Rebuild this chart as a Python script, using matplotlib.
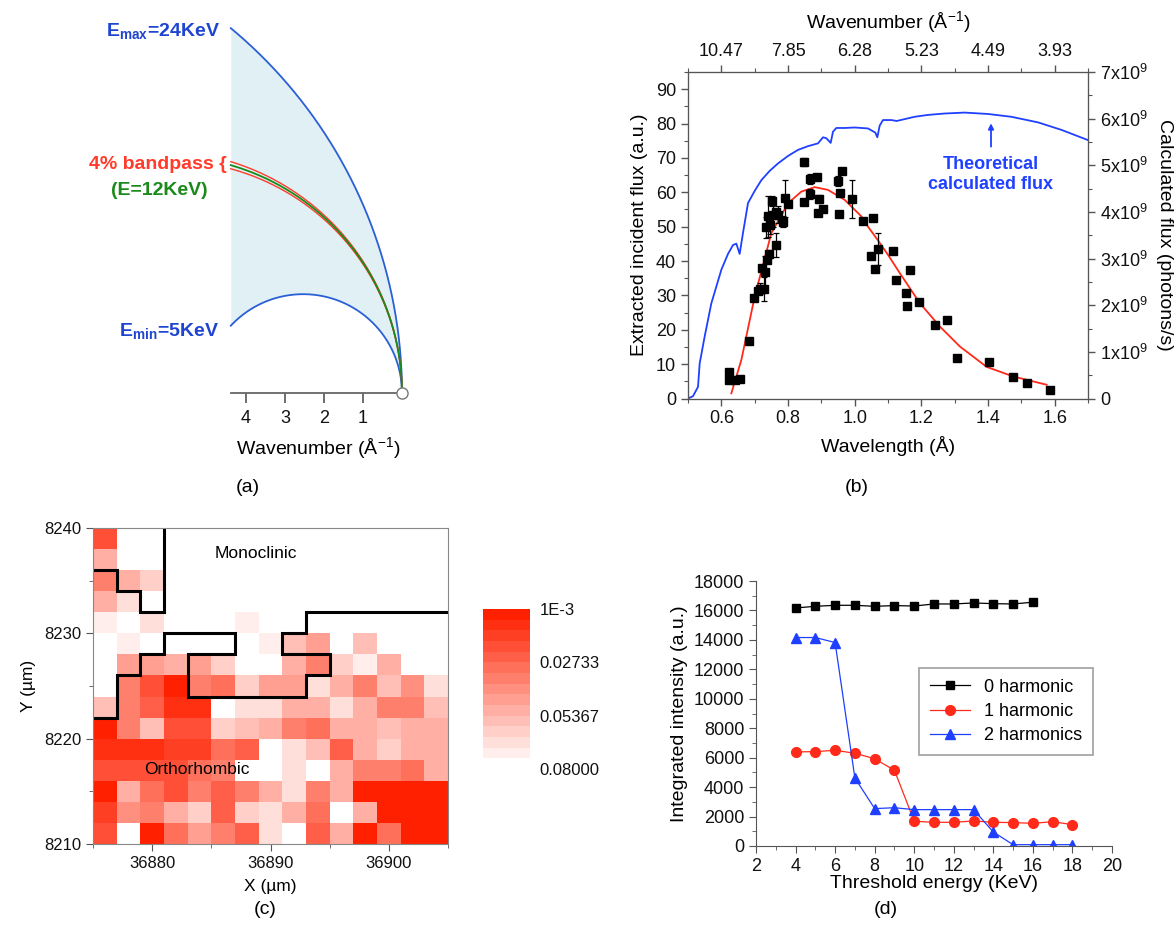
import numpy as np
import matplotlib.pyplot as plt
from matplotlib.colors import LinearSegmentedColormap, BoundaryNorm
from matplotlib.ticker import MultipleLocator

plt.rcParams['font.family'] = ['Liberation Sans', 'DejaVu Sans']
plt.rcParams['mathtext.fontset'] = 'custom'
plt.rcParams['mathtext.rm'] = 'Liberation Sans'
plt.rcParams['mathtext.bf'] = 'Liberation Sans:bold'
plt.rcParams['axes.edgecolor'] = '#555555'
plt.rcParams['xtick.color'] = '#555555'
plt.rcParams['ytick.color'] = '#555555'
plt.rcParams['xtick.labelcolor'] = '#111111'
plt.rcParams['ytick.labelcolor'] = '#111111'

# ---- (a) energies of the scattering circles (KeV)
E_max, E_min, E_mid, band = 24.0, 5.0, 12.0, 0.04
k_edge = 4.39          # left edge of the drawing, in A^-1
a_ticks = [1, 2, 3, 4]

# ---- (b) theoretical flux curve (1e9 photons/s)
lam_th = [0.50, 0.515, 0.53, 0.535, 0.55, 0.57, 0.60, 0.62, 0.635, 0.645, 0.655, 0.665,
          0.68, 0.70, 0.72, 0.745, 0.77, 0.80, 0.83, 0.86, 0.89, 0.905, 0.915, 0.928,
          0.935, 0.945, 0.97, 1.00, 1.04, 1.062, 1.068, 1.075, 1.085, 1.11, 1.126, 1.15,
          1.18, 1.22, 1.27, 1.33, 1.40, 1.47, 1.55, 1.62, 1.70]
flux_th = [0.0, 0.05, 0.25, 0.75, 1.33, 2.04, 2.76, 3.1, 3.29, 3.32, 3.1, 3.55,
           4.19, 4.45, 4.68, 4.88, 5.04, 5.2, 5.33, 5.41, 5.47, 5.6, 5.58, 5.48,
           5.72, 5.8, 5.8, 5.81, 5.79, 5.7, 5.6, 5.85, 5.97, 5.97, 5.95, 5.99,
           6.04, 6.08, 6.11, 6.13, 6.10, 6.04, 5.92, 5.76, 5.54]
# extracted flux points
lam_pts = [0.622, 0.622, 0.640, 0.655, 0.683, 0.697, 0.710, 0.716, 0.728, 0.721, 0.730,
           0.738, 0.742, 0.765, 0.735, 0.739, 0.745, 0.751, 0.755, 0.765, 0.771, 0.786,
           0.790, 0.800, 0.847, 0.849, 0.865, 0.867, 0.887, 0.889, 0.893, 0.905, 0.951,
           0.955, 0.962, 0.953, 0.993, 1.024, 1.054, 1.050, 1.060, 1.070, 1.116, 1.123,
           1.153, 1.158, 1.166, 1.193, 1.241, 1.276, 1.306, 1.404, 1.476, 1.518, 1.586]
val_pts = [7.8, 5.3, 5.4, 5.7, 16.7, 29.3, 31.2, 32.0, 31.8, 38.0, 36.9,
           40.3, 42.1, 44.7, 49.8, 53.0, 50.5, 57.5, 53.4, 54.2, 53.5, 51.5,
           58.2, 56.5, 68.8, 57.3, 59.5, 63.8, 64.5, 54.0, 58.0, 55.0, 63.3,
           59.7, 66.3, 53.6, 58.0, 51.6, 52.5, 41.6, 37.7, 43.5, 43.0, 34.5,
           30.8, 27.0, 37.4, 28.2, 21.4, 22.9, 11.7, 10.7, 6.2, 4.6, 2.4]
err_pts = [0, 0, 0, 0, 0, 0, 0.5, 1.5, 3.5, 0, 4.5,
           0, 1.0, 3.5, 3.0, 6.0, 2.5, 1.5, 3.5, 0, 2.5, 1.5,
           5.3, 0, 1.2, 0, 1.5, 1.5, 0, 0, 1.2, 0, 1.5,
           0, 0.8, 0, 5.5, 0, 0, 0, 0, 4.8, 0, 0,
           0, 0, 0, 0, 0, 0, 0, 0, 0, 0, 0]
# fitted curve
lam_fit = [0.63, 0.66, 0.70, 0.75, 0.80, 0.84, 0.88, 0.92, 0.97, 1.02, 1.04, 1.07,
           1.10, 1.136, 1.196, 1.256, 1.316, 1.396, 1.476, 1.576]
val_fit = [1.5, 11.2, 29.6, 48.1, 56.8, 60.2, 61.5, 60.7, 57.8, 53.0, 50.0, 46.0,
           41.8, 36.4, 27.7, 20.9, 15.1, 9.2, 6.4, 4.0]
top_pos = [0.6, 0.8, 1.0, 1.2, 1.4, 1.6]
top_lab = ['10.47', '7.85', '6.28', '5.23', '4.49', '3.93']

# ---- (c) map, rows from top (y=8240) to bottom, 2 um steps
grid = [
    [0.0198, 0.08, 0.08, 0.08, 0.08, 0.08, 0.08, 0.08, 0.08, 0.08, 0.08, 0.08, 0.08, 0.08, 0.08],
    [0.050, 0.08, 0.08, 0.08, 0.08, 0.08, 0.08, 0.08, 0.08, 0.08, 0.08, 0.08, 0.08, 0.08, 0.08],
    [0.035, 0.050, 0.062, 0.08, 0.08, 0.08, 0.08, 0.08, 0.08, 0.08, 0.08, 0.08, 0.08, 0.08, 0.08],
    [0.050, 0.068, 0.08, 0.08, 0.08, 0.08, 0.08, 0.08, 0.08, 0.08, 0.08, 0.08, 0.08, 0.08, 0.08],
    [0.0708, 0.08, 0.068, 0.08, 0.08, 0.08, 0.0747, 0.08, 0.08, 0.08, 0.08, 0.08, 0.08, 0.08, 0.08],
    [0.08, 0.074, 0.08, 0.08, 0.08, 0.08, 0.08, 0.074, 0.0577, 0.0463, 0.08, 0.0577, 0.08, 0.08, 0.08],
    [0.08, 0.0439, 0.0463, 0.050, 0.0463, 0.062, 0.08, 0.08, 0.050, 0.0378, 0.062, 0.0719, 0.050, 0.08, 0.08],
    [0.08, 0.035, 0.018, 0.0045, 0.035, 0.0293, 0.0633, 0.0463, 0.0463, 0.068, 0.050, 0.035, 0.0577, 0.0407, 0.068],
    [0.0577, 0.035, 0.0237, 0.0067, 0.0067, 0.08, 0.068, 0.068, 0.050, 0.050, 0.068, 0.050, 0.0378, 0.0378, 0.0577],
    [0.001, 0.035, 0.056, 0.018, 0.018, 0.062, 0.056, 0.050, 0.0378, 0.0318, 0.050, 0.050, 0.056, 0.050, 0.050],
    [0.0067, 0.0067, 0.0067, 0.0141, 0.0141, 0.0293, 0.0237, 0.08, 0.068, 0.056, 0.0237, 0.050, 0.062, 0.050, 0.050],
    [0.018, 0.018, 0.018, 0.018, 0.0293, 0.035, 0.08, 0.08, 0.068, 0.08, 0.050, 0.035, 0.035, 0.0293, 0.050],
    [0.0038, 0.050, 0.0293, 0.018, 0.0378, 0.0237, 0.0378, 0.050, 0.068, 0.0378, 0.050, 0.0038, 0.0038, 0.0038, 0.001],
    [0.0123, 0.0407, 0.0378, 0.050, 0.062, 0.0237, 0.062, 0.068, 0.050, 0.0293, 0.0765, 0.050, 0.001, 0.001, 0.001],
    [0.0198, 0.08, 0.001, 0.0318, 0.0439, 0.035, 0.0258, 0.068, 0.08, 0.0237, 0.050, 0.0038, 0.0293, 0.001, 0.001],
]
x0_map, y0_map, step = 36875, 8210, 2
# phase boundaries
bnd1_x = [36875, 36877, 36877, 36879, 36879, 36881, 36881]
bnd1_y = [8236, 8236, 8234, 8234, 8232, 8232, 8240]
bnd2_x = [36875, 36877, 36877, 36879, 36879, 36881, 36881, 36887, 36887, 36883, 36883,
          36893, 36893, 36895, 36895, 36891, 36891, 36893, 36893, 36905]
bnd2_y = [8222, 8222, 8226, 8226, 8228, 8228, 8230, 8230, 8228, 8228, 8224,
          8224, 8226, 8226, 8228, 8228, 8230, 8230, 8232, 8232]
cb_ticks = [0.001, 0.02733, 0.05367, 0.08]
cb_labels = ['1E-3', '0.02733', '0.05367', '0.08000']

# ---- (d) integrated intensity vs threshold energy
e0 = [4, 5, 6, 7, 8, 9, 10, 11, 12, 13, 14, 15, 16]
h0 = [16170, 16280, 16350, 16350, 16280, 16330, 16300, 16440, 16440, 16510, 16460, 16440, 16560]
e1 = [4, 5, 6, 7, 8, 9, 10, 11, 12, 13, 14, 15, 16, 17, 18]
h1 = [6390, 6410, 6500, 6300, 5930, 5140, 1680, 1610, 1610, 1700, 1610, 1590, 1540, 1650, 1450]
h2 = [14160, 14160, 13820, 4620, 2540, 2600, 2470, 2470, 2470, 2470, 950, 90, 90, 90, 90]

W, H = 1176, 935
fig = plt.figure(figsize=(W / 100, H / 100), dpi=100)

def box(l, t, r, b):
    return [l / W, 1 - b / H, (r - l) / W, (b - t) / H]

# ================= (a)
axa = fig.add_axes(box(222.6, 18.6, 413.7, 404.7))
axa.set_xlim(4.6, -0.3)
axa.set_ylim(-0.3, 9.6)
kx = np.linspace(0, k_edge, 400)

def arc(E):
    k = 2 * np.pi * E / 12.398
    return np.sqrt(np.clip(2 * k * kx - kx ** 2, 0, None))

axa.fill_between(kx, arc(E_min), arc(E_max), color='#e0f0f5', lw=0)
axa.plot(kx, arc(E_max), color='#2a5fd6', lw=1.3)
axa.plot(kx, arc(E_min), color='#2a5fd6', lw=1.3)
axa.plot(kx, arc(E_mid * (1 + band / 2)), color='#ff3b2a', lw=1.0)
axa.plot(kx, arc(E_mid * (1 - band / 2)), color='#ff3b2a', lw=1.0)
axa.plot(kx, arc(E_mid), color='#1a8a1a', lw=1.3)
axa.plot([0], [0], 'o', ms=8, mfc='white', mec='#777777', mew=1, clip_on=False, zorder=5)
for s in ['top', 'right', 'left']:
    axa.spines[s].set_visible(False)
axa.spines['bottom'].set_position(('data', 0))
axa.spines['bottom'].set_bounds(0, k_edge)
axa.spines['bottom'].set_color('#666666')
axa.spines['bottom'].set_linewidth(1.3)
axa.set_yticks([])
axa.set_xticks(a_ticks)
axa.tick_params(axis='x', direction='out', length=7, width=1.2, labelsize=13, pad=5)
axa.set_xlabel(r'Wavenumber (Å$^{\mathregular{-1}}$)', fontsize=14, labelpad=6)
axa.text(4.67, 9.26, r'E$_{\mathbf{max}}$=24KeV', color='#1f45d0', fontsize=14,
         fontweight='bold', ha='right', va='center')
axa.text(4.49, 5.85, '4% bandpass {', color='#ff3b2a', fontsize=14, fontweight='bold',
         ha='right', va='center')
axa.text(6.23, 5.2, '(E=12KeV)', color='#1a8a1a', fontsize=14, fontweight='bold',
         ha='center', va='center')
axa.text(4.69, 1.56, r'E$_{\mathbf{min}}$=5KeV', color='#1f45d0', fontsize=14,
         fontweight='bold', ha='right', va='center')

# ================= (b)
axb = fig.add_axes(box(688, 72, 1088, 398.5))
axr = axb.twinx()
axt = axb.twiny()
axr.plot(lam_th, np.array(flux_th) * 1e9, color='#2040ff', lw=1.3)
axb.plot(lam_fit, val_fit, color='#ff2a1a', lw=1.3, zorder=3)
axb.errorbar(lam_pts, val_pts, yerr=err_pts, fmt='s', color='k', ms=5.5, capsize=2.5,
             elinewidth=0.9, capthick=0.9, zorder=4)
axb.set_zorder(axr.get_zorder() + 1)
axb.patch.set_visible(False)
axb.set_xlim(0.5, 1.7)
axb.set_ylim(0, 95)
axb.xaxis.set_minor_locator(MultipleLocator(0.1))
axb.yaxis.set_major_locator(MultipleLocator(10))
axb.yaxis.set_minor_locator(MultipleLocator(5))
axb.set_xticks([0.6, 0.8, 1.0, 1.2, 1.4, 1.6])
axb.set_xticklabels(['0.6', '0.8', '1.0', '1.2', '1.4', '1.6'])
axr.set_ylim(0, 7e9)
axr.yaxis.set_minor_locator(MultipleLocator(0.5e9))
axr.set_yticks([i * 1e9 for i in range(8)])
axr.set_yticklabels(['0'] + [r'%dx10$^{\mathregular{9}}$' % i for i in range(1, 8)])
axt.set_xlim(0.5, 1.7)
axt.set_xticks(top_pos)
axt.set_xticklabels(top_lab)
axt.xaxis.set_minor_locator(MultipleLocator(0.1))
for a in (axb, axr, axt):
    a.tick_params(which='major', direction='out', length=5, width=1, labelsize=13)
    a.tick_params(which='minor', direction='out', length=3, width=0.8)
axb.set_xlabel('Wavelength (Å)', fontsize=14, labelpad=6)
axb.set_ylabel('Extracted incident flux (a.u.)', fontsize=14, labelpad=6)
axr.set_ylabel('Calculated flux (photons/s)', fontsize=14, rotation=-90, labelpad=18)
axt.set_xlabel(r'Wavenumber (Å$^{\mathregular{-1}}$)', fontsize=14, labelpad=10)
axr.annotate('', xy=(1.409, 5.9e9), xytext=(1.409, 5.4e9),
             arrowprops=dict(arrowstyle='-|>', color='#2040ff', lw=1.3,
                             mutation_scale=8, shrinkA=0, shrinkB=0))
axr.text(1.409, 4.8e9, 'Theoretical\ncalculated flux', color='#2040ff', fontsize=13,
         fontweight='bold', ha='center', va='center', linespacing=1.2)

# ================= (c)
axc = fig.add_axes(box(93, 528, 448, 844))
xe = x0_map + step * np.arange(16)
ye = y0_map + step * np.arange(16)
cmap = LinearSegmentedColormap.from_list('rw', ['#ff2000', '#ffffff'])
levels = np.linspace(0.001, 0.08, 16)
norm = BoundaryNorm(levels, cmap.N, clip=True)
mesh = axc.pcolormesh(xe, ye, np.flipud(np.array(grid)), cmap=cmap, norm=norm)
axc.plot(bnd1_x, bnd1_y, color='k', lw=2.2, solid_joinstyle='miter')
axc.plot(bnd2_x, bnd2_y, color='k', lw=2.2, solid_joinstyle='miter')
axc.text(36888.8, 8237.6, 'Monoclinic', fontsize=12.5, ha='center', va='center')
axc.text(36883.8, 8217.1, 'Orthorhombic', fontsize=12.5, ha='center', va='center')
axc.set_xlim(36875, 36905)
axc.set_ylim(8210, 8240)
axc.set_xticks([36880, 36890, 36900])
axc.set_yticks([8210, 8220, 8230, 8240])
axc.xaxis.set_minor_locator(MultipleLocator(5))
axc.yaxis.set_minor_locator(MultipleLocator(5))
axc.tick_params(which='major', direction='out', length=5, labelsize=12)
axc.tick_params(which='minor', direction='out', length=3)
for s in axc.spines.values():
    s.set_color('#888888')
axc.set_xlabel('X (µm)', fontsize=12.5, labelpad=6)
axc.set_ylabel('Y (µm)', fontsize=12.5, labelpad=6)

cax = fig.add_axes(box(483, 609, 530, 769))
cb = fig.colorbar(mesh, cax=cax, ticks=cb_ticks)
cb.outline.set_visible(False)
cax.minorticks_off()
cax.invert_yaxis()
cax.set_yticklabels(cb_labels)
cax.tick_params(which='both', length=0, labelsize=12, pad=7)

# ================= (d)
axd = fig.add_axes(box(756, 581, 1112, 846))
axd.plot(e0, h0, '-s', color='k', lw=0.9, ms=6, label='0 harmonic')
axd.plot(e1, h1, '-o', color='#ff2a1a', lw=0.9, ms=7, label='1 harmonic')
axd.plot(e1, h2, '-^', color='#1f3fff', lw=0.9, ms=7, label='2 harmonics')
axd.set_xlim(2, 20)
axd.set_ylim(0, 18000)
axd.xaxis.set_major_locator(MultipleLocator(2))
axd.xaxis.set_minor_locator(MultipleLocator(1))
axd.yaxis.set_major_locator(MultipleLocator(2000))
axd.yaxis.set_minor_locator(MultipleLocator(1000))
axd.spines['top'].set_visible(False)
axd.spines['right'].set_visible(False)
axd.tick_params(which='major', direction='out', length=5, labelsize=13)
axd.tick_params(which='minor', direction='out', length=3)
axd.set_xlabel('Threshold energy (KeV)', fontsize=14, labelpad=0)
axd.set_ylabel('Integrated intensity (a.u.)', fontsize=14, labelpad=4)
leg = axd.legend(loc='upper right', bbox_to_anchor=(0.972, 0.706), fontsize=13,
                 fancybox=False, edgecolor='#888888', handlelength=2.2,
                 borderpad=0.6, labelspacing=0.4)
leg.get_frame().set_linewidth(1.2)

# panel labels
for lab, px, py in [('(a)', 248, 487), ('(b)', 857, 487), ('(c)', 265, 910), ('(d)', 886, 910)]:
    fig.text(px / W, 1 - py / H, lab, fontsize=14, ha='center', va='center')

fig.savefig('out.png', dpi=100)
